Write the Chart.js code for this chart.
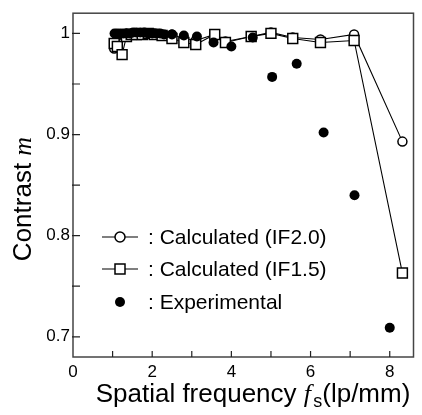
<!DOCTYPE html>
<html>
<head>
<meta charset="utf-8">
<script src="https://cdn.jsdelivr.net/npm/chart.js@4.4.1/dist/chart.umd.min.js"></script>
<style>
  html, body { margin: 0; padding: 0; background: #fff; }
  canvas { display: block; }
</style>
</head>
<body>
<canvas id="chart" width="422" height="415"></canvas>
<script>
// spatial frequencies (lp/mm) of the calculated curves
const freqCalc = [1.04, 1.12, 1.24, 1.35, 1.47, 1.6, 1.75, 1.9, 2.05, 2.25, 2.5, 2.8, 3.1, 3.58, 3.85, 4.5, 5.0, 5.55, 6.25, 7.1, 8.32];
const contrastIF20 = [0.985, 0.998, 0.999, 1.0, 1.0, 1.0, 1.0, 1.0, 1.0, 0.999, 0.999, 0.995, 0.993, 0.999, 0.992, 0.997, 1.001, 0.996, 0.994, 0.999, 0.893];
const contrastIF15 = [0.99, 0.987, 0.979, 0.997, 0.999, 0.999, 0.999, 1.0, 0.999, 0.998, 0.995, 0.991, 0.989, 0.999, 0.991, 0.997, 1.0, 0.995, 0.991, 0.993, 0.763];

// measured points
const freqExp = [1.05, 1.12, 1.2, 1.28, 1.36, 1.44, 1.52, 1.6, 1.7, 1.8, 1.9, 2.0, 2.1, 2.2, 2.3, 2.5, 2.8, 3.13, 3.55, 4.0, 4.54, 5.03, 5.65, 6.33, 7.11, 8.0];
const contrastExp = [1.0, 1.0, 1.0, 1.0, 1.0, 1.0, 1.001, 1.001, 1.001, 1.001, 1.0, 1.0, 1.0, 1.0, 0.999, 0.999, 0.998, 0.997, 0.991, 0.987, 0.996, 0.957, 0.970, 0.902, 0.840, 0.709];

const legendLabels = [': Calculated (IF2.0)', ': Calculated (IF1.5)', ': Experimental'];
const xTickLabels = ['0', '2', '4', '6', '8'];
const yTickLabels = ['0.7', '0.8', '0.9', '1'];

function toPoints(xs, ys) {
    return xs.map(function(x, i) { return { x: x, y: ys[i] }; });
}

const SANS = '"Liberation Sans", Arial, sans-serif';
const SERIF = '"Liberation Serif", "Times New Roman", serif';

const framePlugin = {
    id: 'frame',
    beforeDatasetsDraw(chart) {
        const ctx = chart.ctx;
        const a = chart.chartArea;
        const xs = chart.scales.x, ys = chart.scales.y;
        ctx.save();
        ctx.strokeStyle = '#444';
        ctx.lineWidth = 1.5;
        ctx.strokeRect(a.left, a.top, a.right - a.left, a.bottom - a.top);
        ctx.lineWidth = 1.2;
        ctx.strokeStyle = '#222';
        ctx.beginPath();
        xs.ticks.forEach(function(t) {
            const px = xs.getPixelForValue(t.value);
            if (px <= a.left + 1 || px >= a.right - 1) return;
            ctx.moveTo(px, a.bottom);
            ctx.lineTo(px, a.bottom - 6);
        });
        ys.ticks.forEach(function(t) {
            const py = ys.getPixelForValue(t.value);
            ctx.moveTo(a.left - 1, py);
            ctx.lineTo(a.left + 7, py);
        });
        ctx.stroke();
        ctx.restore();
    },
    afterDraw(chart) {
        const ctx = chart.ctx;
        ctx.save();
        ctx.fillStyle = '#000';
        ctx.textBaseline = 'alphabetic';

        // x axis title with italic f and subscript s
        const parts = [
            { t: 'Spatial frequency ', f: '26px ' + SANS, dy: 0 },
            { t: 'f', f: 'italic 26px ' + SERIF, dy: 0 },
            { t: ' ', f: '8px ' + SANS, dy: 0 },
            { t: 's', f: '18px ' + SANS, dy: 5 },
            { t: '(lp/mm)', f: '26px ' + SANS, dy: 0 }
        ];
        let total = 0;
        parts.forEach(function(p) { ctx.font = p.f; p.w = ctx.measureText(p.t).width; total += p.w; });
        let x = 253 - total / 2;
        const base = 402;
        ctx.textAlign = 'left';
        parts.forEach(function(p) { ctx.font = p.f; ctx.fillText(p.t, x, base + p.dy); x += p.w; });

        // y axis title
        ctx.translate(31, 199);
        ctx.rotate(-Math.PI / 2);
        const yparts = [
            { t: 'Contrast ', f: '26px ' + SANS },
            { t: 'm', f: 'italic 26px ' + SERIF }
        ];
        total = 0;
        yparts.forEach(function(p) { ctx.font = p.f; p.w = ctx.measureText(p.t).width; total += p.w; });
        x = -total / 2;
        yparts.forEach(function(p) { ctx.font = p.f; ctx.fillText(p.t, x, 0); x += p.w; });
        ctx.restore();

        // legend inside the plot
        ctx.save();
        const rows = [237, 269, 302];
        const mx = 120;
        ctx.font = '21px ' + SANS;
        ctx.textBaseline = 'middle';
        ctx.strokeStyle = '#000';
        rows.forEach(function(y, i) {
            if (i < 2) {
                ctx.lineWidth = 1.2;
                ctx.beginPath();
                ctx.moveTo(102, y);
                ctx.lineTo(138, y);
                ctx.stroke();
                ctx.lineWidth = 1.5;
                ctx.fillStyle = '#fff';
                ctx.beginPath();
                if (i === 0) ctx.arc(mx, y, 5, 0, Math.PI * 2);
                else ctx.rect(mx - 5, y - 5, 10, 10);
                ctx.fill();
                ctx.stroke();
            } else {
                ctx.fillStyle = '#000';
                ctx.beginPath();
                ctx.arc(mx, y, 5, 0, Math.PI * 2);
                ctx.fill();
            }
            ctx.fillStyle = '#000';
            ctx.fillText(legendLabels[i], 148, y + 1);
        });
        ctx.restore();
    }
};

const ctx = document.getElementById('chart').getContext('2d');
const chart = new Chart(ctx, {
    type: 'scatter',
    data: {
        datasets: [{
            label: 'Calculated (IF2.0)',
            data: toPoints(freqCalc, contrastIF20),
            order: 2,
            showLine: true,
            borderColor: '#000',
            borderWidth: 1.1,
            pointStyle: 'circle',
            pointRadius: 4.5,
            pointBorderWidth: 1.5,
            pointBackgroundColor: '#fff',
            pointBorderColor: '#000'
        }, {
            label: 'Calculated (IF1.5)',
            data: toPoints(freqCalc, contrastIF15),
            order: 1,
            showLine: true,
            borderColor: '#000',
            borderWidth: 1.1,
            pointStyle: 'rect',
            pointRadius: 7,
            pointBorderWidth: 1.5,
            pointBackgroundColor: '#fff',
            pointBorderColor: '#000'
        }, {
            label: 'Experimental',
            data: toPoints(freqExp, contrastExp),
            order: 0,
            showLine: false,
            pointStyle: 'circle',
            pointRadius: 5,
            pointBorderWidth: 0,
            pointBackgroundColor: '#000',
            pointBorderColor: '#000'
        }]
    },
    options: {
        responsive: false,
        animation: false,
        devicePixelRatio: 1,
        layout: { padding: { top: 9, right: 1, left: 0, bottom: 0 } },
        plugins: {
            legend: { display: false },
            tooltip: { enabled: false }
        },
        scales: {
            x: {
                type: 'linear',
                min: 0,
                max: 8.6,
                grid: { display: false, drawTicks: false },
                border: { display: false },
                ticks: {
                    stepSize: 1,
                    includeBounds: false,
                    autoSkip: false,
                    maxRotation: 0,
                    padding: 5,
                    color: '#000',
                    font: { family: SANS, size: 17 },
                    callback: function(v) {
                        const i = xTickLabels.indexOf(String(v));
                        return i >= 0 ? xTickLabels[i] : '';
                    }
                },
                afterFit: function(s) { s.height = 58; }
            },
            y: {
                type: 'linear',
                min: 0.68,
                max: 1.02,
                grid: { display: false, drawTicks: false },
                border: { display: false },
                ticks: {
                    stepSize: 0.05,
                    includeBounds: false,
                    autoSkip: false,
                    padding: 3,
                    color: '#000',
                    font: { family: SANS, size: 17 },
                    callback: function(v) {
                        const r = Math.round(v * 10);
                        if (Math.abs(v * 10 - r) > 1e-6) return '';
                        return yTickLabels[r - 7] || '';
                    }
                },
                afterFit: function(s) { s.width = 73; }
            }
        }
    },
    plugins: [framePlugin]
});
</script>
</body>
</html>
